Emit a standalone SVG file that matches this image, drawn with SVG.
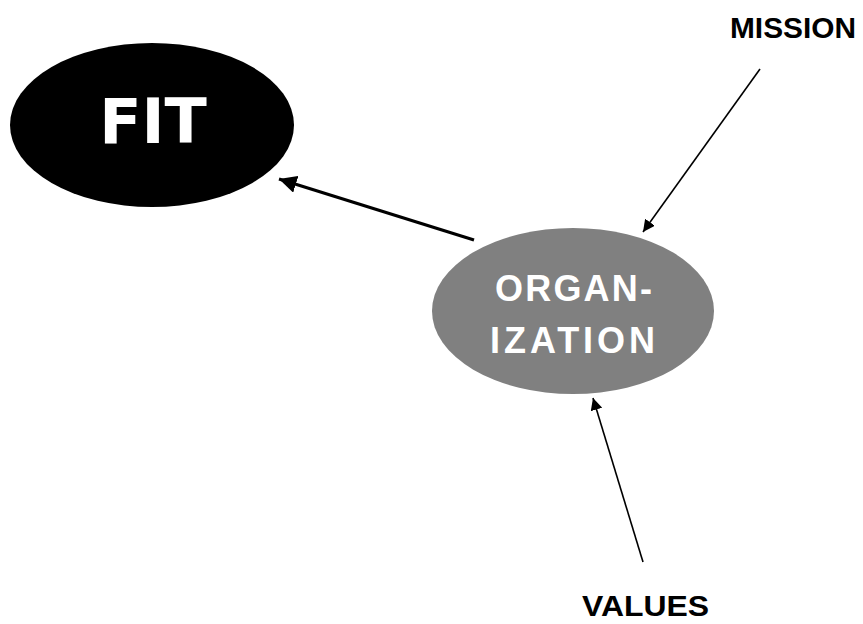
<svg xmlns="http://www.w3.org/2000/svg" width="863" height="624" viewBox="0 0 863 624">
<defs>
<style>
.lbl{font-family:"Liberation Sans",Arial,sans-serif;font-weight:bold;fill:#000}
.org{font-family:"Liberation Sans",Arial,sans-serif;font-weight:bold;fill:#fff;font-size:36px}
.fit{font-family:"DejaVu Sans",Verdana,sans-serif;font-weight:bold;fill:#fff;font-size:62px}
.ln{stroke:#000;fill:none}
</style>
<marker id="ahb" viewBox="0 0 10 10" refX="10" refY="5" markerWidth="5.5" markerHeight="5.5" orient="auto">
<path d="M0,0 L10,5 L0,10 z" fill="#000"/>
</marker>
<marker id="ahs" viewBox="0 0 10 10" refX="10" refY="5" markerWidth="12" markerHeight="12" markerUnits="userSpaceOnUse" orient="auto">
<path d="M0,0 L10,5 L0,10 z" fill="#000"/>
</marker>
</defs>
<g id="connectors">
<line class="ln" x1="474" y1="240" x2="279" y2="179" stroke-width="3.2" marker-end="url(#ahb)"/>
<line class="ln" x1="760" y1="69" x2="643" y2="232" stroke-width="1.6" marker-end="url(#ahs)"/>
<line class="ln" x1="643" y1="562" x2="593" y2="398" stroke-width="1.6" marker-end="url(#ahs)"/>
</g>
<g id="node-fit">
<ellipse cx="152" cy="125" rx="142" ry="82" fill="#000"/>
<text class="fit" x="153" y="143" text-anchor="middle">FIT</text>
</g>
<g id="node-organization">
<ellipse cx="573" cy="311" rx="141" ry="83" fill="#808080"/>
<text class="org" x="495" y="301" textLength="157" lengthAdjust="spacing">ORGAN-</text>
<text class="org" x="490" y="353" textLength="165" lengthAdjust="spacing">IZATION</text>
</g>
<g id="node-mission">
<text class="lbl" x="730" y="38" font-size="29" textLength="126" lengthAdjust="spacingAndGlyphs">MISSION</text>
</g>
<g id="node-values">
<text class="lbl" x="582" y="616" font-size="30" textLength="127" lengthAdjust="spacingAndGlyphs">VALUES</text>
</g>
</svg>
